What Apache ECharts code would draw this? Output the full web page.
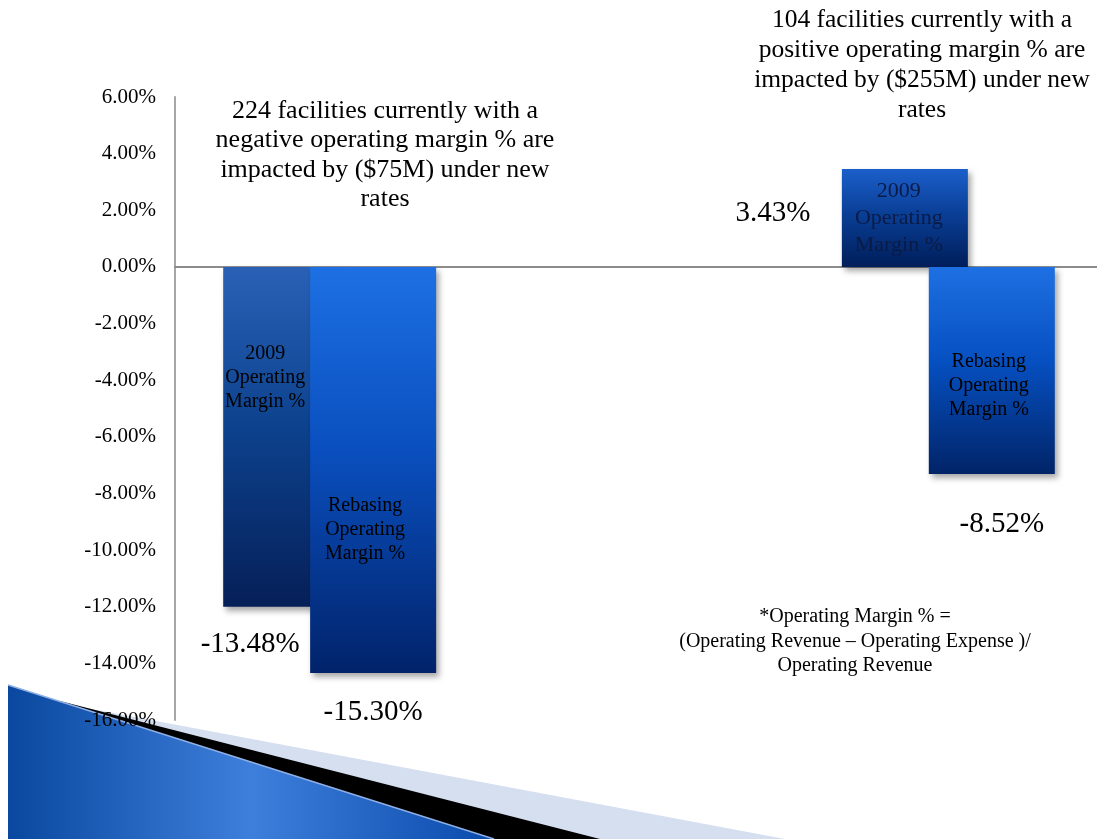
<!DOCTYPE html>
<html>
<head>
<meta charset="utf-8">
<script src="https://cdn.jsdelivr.net/npm/echarts@6/dist/echarts.min.js"></script>
<style>
html,body{margin:0;padding:0;background:#fff;}
#chart{width:1097px;height:839px;}
</style>
</head>
<body>
<div id="chart"></div>
<script>
// ---- data ----
const categories = ['Facilities with negative operating margin', '', 'Facilities with positive operating margin'];
const seriesNames = ['2009 Operating Margin %', 'Rebasing Operating Margin %'];
const barText = ['2009\nOperating\nMargin %', 'Rebasing\nOperating\nMargin %'];
const margin2009 = [-12.0, '-', 3.46];
const marginRebasing = [-14.34, '-', -7.31];
const labels2009 = ['-13.48%', '', '3.43%'];
const labelsRebasing = ['-15.30%', '', '-8.52%'];
const yMin = -16, yMax = 6, yStep = 2;
const noteNegative = '224 facilities currently with a\nnegative operating margin % are\nimpacted by ($75M) under new\nrates';
const notePositive = '104 facilities currently with a\npositive operating margin % are\nimpacted by ($255M) under new\nrates';
const noteFormula = '*Operating Margin % =\n(Operating Revenue \u2013 Operating Expense )/\nOperating Revenue';

const FONT = "'Liberation Serif','Times New Roman',serif";

function grad(top, mid, bottom) {
  return new echarts.graphic.LinearGradient(0, 0, 0, 1, [
    {offset: 0, color: top}, {offset: 0.45, color: mid}, {offset: 1, color: bottom}
  ]);
}

const shadow = {shadowBlur: 6, shadowColor: 'rgba(0,0,0,0.35)', shadowOffsetX: 3, shadowOffsetY: 4};

const styles2009 = [
  {color: grad('#2a61b6', '#0d438f', '#061f58'), label: {offset: [-21, -59]}},
  null,
  {color: grad('#1b5fcb', '#0a3f97', '#001e5a'), label: {offset: [-6, 0], fontSize: 22, lineHeight: 27, color: '#0b1b45'}}
];
const stylesRebasing = [
  {color: grad('#1d70e3', '#0a4fbf', '#01236a'), label: {offset: [-8, 60]}},
  null,
  {color: grad('#1e70e2', '#0650c2', '#012468'), label: {offset: [-3, 15]}}
];

function buildData(values, styles) {
  return values.map((v, i) => {
    if (v === '-' || !styles[i]) return '-';
    return {value: v, itemStyle: Object.assign({color: styles[i].color}, shadow), label: styles[i].label};
  });
}

// offsets of the printed value labels, relative to the bar end
const valueOffsets2009 = [[-36, 38], null, [-132, 44]];
const valueOffsetsRebasing = [[0, 39], null, [10, 50]];

function buildMarks(values, texts, offsets) {
  const out = [];
  values.forEach((v, i) => {
    if (v === '-' || !texts[i]) return;
    out.push({name: texts[i], coord: [categories[i], v], label: {offset: offsets[i]}});
  });
  return out;
}

const markCommon = {
  symbol: 'circle', symbolSize: 1, silent: true,
  itemStyle: {color: 'rgba(0,0,0,0)'},
  label: {show: true, position: 'inside', formatter: '{b}', fontFamily: FONT, fontSize: 29, color: '#000'}
};

const chart = echarts.init(document.getElementById('chart'), null, {renderer: 'canvas'});

const option = {
  animation: false,
  backgroundColor: '#ffffff',
  grid: {left: 175, width: 928, top: 97, bottom: 119, containLabel: false, outerBoundsMode: 'none'},
  xAxis: {
    type: 'category', data: categories,
    axisLine: {show: true, onZero: true, lineStyle: {color: '#8c8c8c', width: 2}},
    axisTick: {show: false}, axisLabel: {show: false}, splitLine: {show: false}
  },
  yAxis: {
    type: 'value', min: yMin, max: yMax, interval: yStep,
    axisLine: {show: true, lineStyle: {color: '#a6a6a6', width: 2}},
    axisTick: {show: false}, splitLine: {show: false},
    axisLabel: {formatter: v => v.toFixed(2) + '%', fontFamily: FONT, fontSize: 21, color: '#000', margin: 19}
  },
  series: [
    {
      name: seriesNames[0], type: 'bar', barWidth: 126, barGap: '-31%',
      data: buildData(margin2009, styles2009),
      label: {show: true, position: 'inside', formatter: barText[0], fontFamily: FONT, fontSize: 20, lineHeight: 24, color: '#000'},
      markPoint: Object.assign({}, markCommon, {data: buildMarks(margin2009, labels2009, valueOffsets2009)})
    },
    {
      name: seriesNames[1], type: 'bar', barWidth: 126, barGap: '-31%',
      data: buildData(marginRebasing, stylesRebasing),
      label: {show: true, position: 'inside', formatter: barText[1], fontFamily: FONT, fontSize: 20, lineHeight: 24, color: '#000'},
      markPoint: Object.assign({}, markCommon, {data: buildMarks(marginRebasing, labelsRebasing, valueOffsetsRebasing)})
    }
  ],
  graphic: [
    // decorative ribbon (bottom-left)
    {type: 'polygon', z: -10, silent: true, shape: {points: [[60, 703], [785, 839], [60, 839]]}, style: {fill: '#d5dff0'}},
    {type: 'polygon', z: -9, silent: true, shape: {points: [[60, 701], [600, 839], [60, 839]]}, style: {fill: '#000'}},
    {type: 'polygon', z: -8, silent: true, shape: {points: [[8, 685], [494, 839], [8, 839]]},
      style: {fill: new echarts.graphic.LinearGradient(0, 0, 1, 0, [
        {offset: 0, color: '#0a489f'}, {offset: 0.5, color: '#3e7fdc'}, {offset: 1, color: '#0a4aab'}
      ])}},
    {type: 'polyline', z: -7, silent: true, shape: {points: [[8, 685], [494, 839]]}, style: {stroke: '#8fb0e6', lineWidth: 1.5}},
    // annotations
    {type: 'text', silent: true, style: {text: noteNegative, x: 385, y: 96, align: 'center', verticalAlign: 'top', font: '26px ' + FONT, lineHeight: 29.5, fill: '#000'}},
    {type: 'text', silent: true, style: {text: notePositive, x: 922, y: 5.5, align: 'center', verticalAlign: 'top', font: '25.5px ' + FONT, lineHeight: 30, fill: '#000'}},
    {type: 'text', silent: true, style: {text: noteFormula, x: 855, y: 604.5, align: 'center', verticalAlign: 'top', font: '20px ' + FONT, lineHeight: 24.5, fill: '#000'}}
  ]
};

chart.setOption(option);
</script>
</body>
</html>
